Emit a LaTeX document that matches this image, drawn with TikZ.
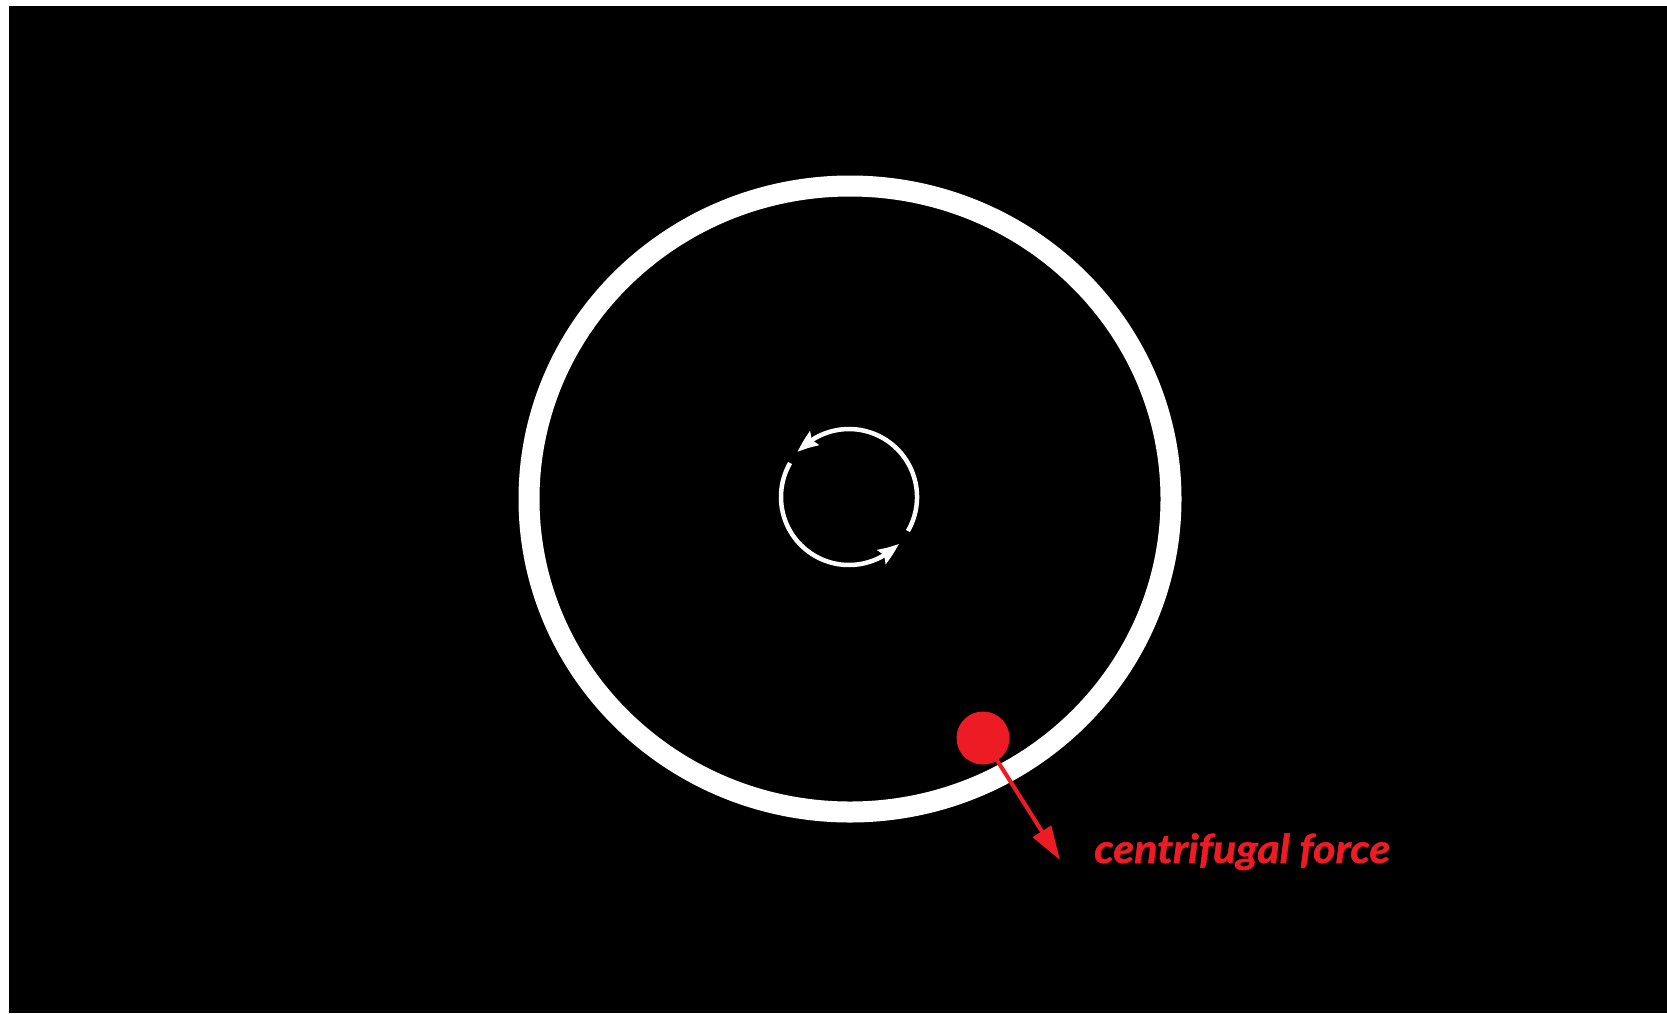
\documentclass[tikz,border=0pt]{standalone}
\usepackage{graphicx}
\usepackage{fontspec}
\setmainfont{Lato}
\newfontfamily\lblfont[BoldItalicFeatures={FakeBold=1.2}]{Lato}
\usetikzlibrary{arrows.meta,bending}
\definecolor{fred}{HTML}{ED1C24}
\tikzset{
  ring/.style={draw=white, line width=21pt},
  spin/.style={draw=white, line width=4.5pt, -{Stealth[length=22pt,width=16pt,inset=3pt,bend]}},
  ball/.style={circle, fill=fred, minimum size=53pt, inner sep=0pt},
  force/.style={draw=fred, line width=4pt, -{Triangle[length=34pt,width=21pt]}},
  lbl/.style={text=fred, inner sep=0pt, font=\lblfont\fontsize{40}{40}\selectfont\bfseries\itshape}
}
\begin{document}
\begin{tikzpicture}[x=1pt,y=-1pt]
\fill[white] (0,0) rectangle (1667,1013);
\fill[black] (9,6) rectangle (1667,1013);
\useasboundingbox (0,0) rectangle (1667,1013);
% outer ring
\draw[ring] (850,499) ellipse [x radius=321pt, y radius=313pt];
% rotation arrows
\draw[spin] (907.9,531) arc[start angle=-30, end angle=139, radius=68pt];
\draw[spin] (790.1,463) arc[start angle=150, end angle=317, radius=68pt];
% ball and force
\node[ball] (b) at (983,738) {};
\coordinate (tip) at (1060,860);
\draw[force] (b.center) -- (tip);
\node[lbl, anchor=base west] (t) at (1094,863) {\resizebox{296pt}{\height}{centrifugal force}};
\end{tikzpicture}
\end{document}
